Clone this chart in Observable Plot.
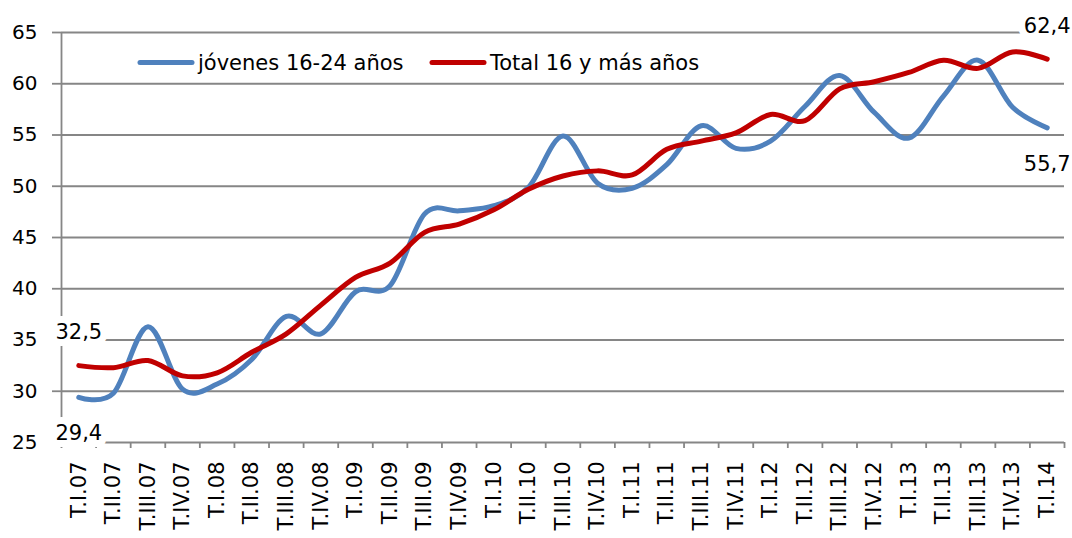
<!DOCTYPE html>
<html>
<head>
<meta charset="utf-8">
<script src="https://cdn.jsdelivr.net/npm/d3@7"></script>
<script src="https://cdn.jsdelivr.net/npm/@observablehq/plot@0.6"></script>
<style>
  html, body { margin: 0; padding: 0; background: #fff; }
  #chart { width: 1072px; height: 538px; }
</style>
</head>
<body>
<div id="chart"></div>
<script>
const quarters = [
  "T.I.07","T.II.07","T.III.07","T.IV.07",
  "T.I.08","T.II.08","T.III.08","T.IV.08",
  "T.I.09","T.II.09","T.III.09","T.IV.09",
  "T.I.10","T.II.10","T.III.10","T.IV.10",
  "T.I.11","T.II.11","T.III.11","T.IV.11",
  "T.I.12","T.II.12","T.III.12","T.IV.12",
  "T.I.13","T.II.13","T.III.13","T.IV.13",
  "T.I.14"
];
const jovenes = [29.4, 29.8, 36.3, 30.2, 30.7, 33.1, 37.3, 35.6, 39.7, 40.3, 47.3, 47.6, 48.1, 49.9, 54.9, 50.3, 49.8, 52.1, 55.9, 53.7, 54.4, 57.8, 60.8, 57.2, 54.7, 58.8, 62.3, 57.7, 55.7];
const total   = [32.5, 32.3, 33.0, 31.5, 31.8, 33.8, 35.6, 38.4, 41.1, 42.5, 45.5, 46.3, 47.7, 49.7, 51.0, 51.5, 51.1, 53.6, 54.4, 55.2, 57.0, 56.4, 59.5, 60.2, 61.1, 62.3, 61.5, 63.1, 62.4];
const seriesNames = ["jóvenes 16-24 años", "Total 16 y más años"];
const seriesColors = ["#4f81bd", "#c00000"];
const yTicks = [25, 30, 35, 40, 45, 50, 55, 60, 65];

const rows = [];
quarters.forEach((q, i) => {
  rows.push({i, v: jovenes[i], serie: seriesNames[0]});
  rows.push({i, v: total[i], serie: seriesNames[1]});
});
const n = quarters.length;
const fmt = v => v.toFixed(1).replace(".", ",");
const gray = "#868686";
const FONT = "DejaVu Sans";

function legendMark() {
  const g = d3.create("svg:g")
    .attr("font-family", FONT)
    .attr("font-size", 21)
    .attr("text-anchor", "start")
    .attr("fill", "black");
  const items = [
    {x: 140, name: seriesNames[0], color: seriesColors[0]},
    {x: 432, name: seriesNames[1], color: seriesColors[1]}
  ];
  for (const it of items) {
    g.append("line")
      .attr("x1", it.x).attr("x2", it.x + 52)
      .attr("y1", 62.5).attr("y2", 62.5)
      .attr("stroke", it.color).attr("stroke-width", 5)
      .attr("stroke-linecap", "round");
    g.append("text")
      .attr("x", it.x + 58).attr("y", 62.5)
      .attr("dy", "0.35em")
      .attr("text-anchor", "start")
      .text(it.name);
  }
  return g.node();
}

const chart = Plot.plot({
  width: 1072,
  height: 538,
  marginTop: 32,
  marginBottom: 96,
  marginLeft: 61,
  marginRight: 8,
  style: {fontFamily: FONT, background: "white", color: "black"},
  x: {type: "linear", domain: [-0.5, n - 0.5], axis: null, label: null},
  y: {domain: [25, 65], axis: null, label: null},
  color: {domain: seriesNames, range: seriesColors},
  marks: [
    Plot.gridY(yTicks.slice(1), {stroke: gray, strokeOpacity: 1, strokeWidth: 1.8}),
    Plot.axisY(yTicks, {label: null, tickSize: 9, tickPadding: 15, fontSize: 20, stroke: gray, strokeWidth: 1.8, tickFormat: d => String(d)}),
    Plot.ruleY([25], {stroke: gray, strokeWidth: 1.8}),
    Plot.ruleX([-0.5], {stroke: gray, strokeWidth: 1.8}),
    Plot.ruleX(d3.range(-0.5, n, 1), {y1: 25, y2: 25, insetBottom: -6, stroke: gray, strokeWidth: 1.8}),
    Plot.axisX(d3.range(n), {label: null, tickSize: 0, tickPadding: 19, tickRotate: -90, fontSize: 21, tickFormat: i => quarters[i]}),
    Plot.line(rows, {x: "i", y: "v", stroke: "serie", z: "serie", curve: "cardinal", tension: 0, strokeWidth: 5, strokeLinecap: "round", strokeLinejoin: "round"}),
    Plot.text([0, n - 1], {x: d => d, y: d => total[d], text: d => fmt(total[d]), dy: -33, fontSize: 21, fill: "black", stroke: "white", strokeWidth: 14, strokeLinejoin: "round"}),
    Plot.text([0, n - 1], {x: d => d, y: d => jovenes[d], text: d => fmt(jovenes[d]), dy: 36, fontSize: 21, fill: "black", stroke: "white", strokeWidth: 14, strokeLinejoin: "round"}),
    legendMark
  ]
});
document.getElementById("chart").append(chart);
</script>
</body>
</html>
